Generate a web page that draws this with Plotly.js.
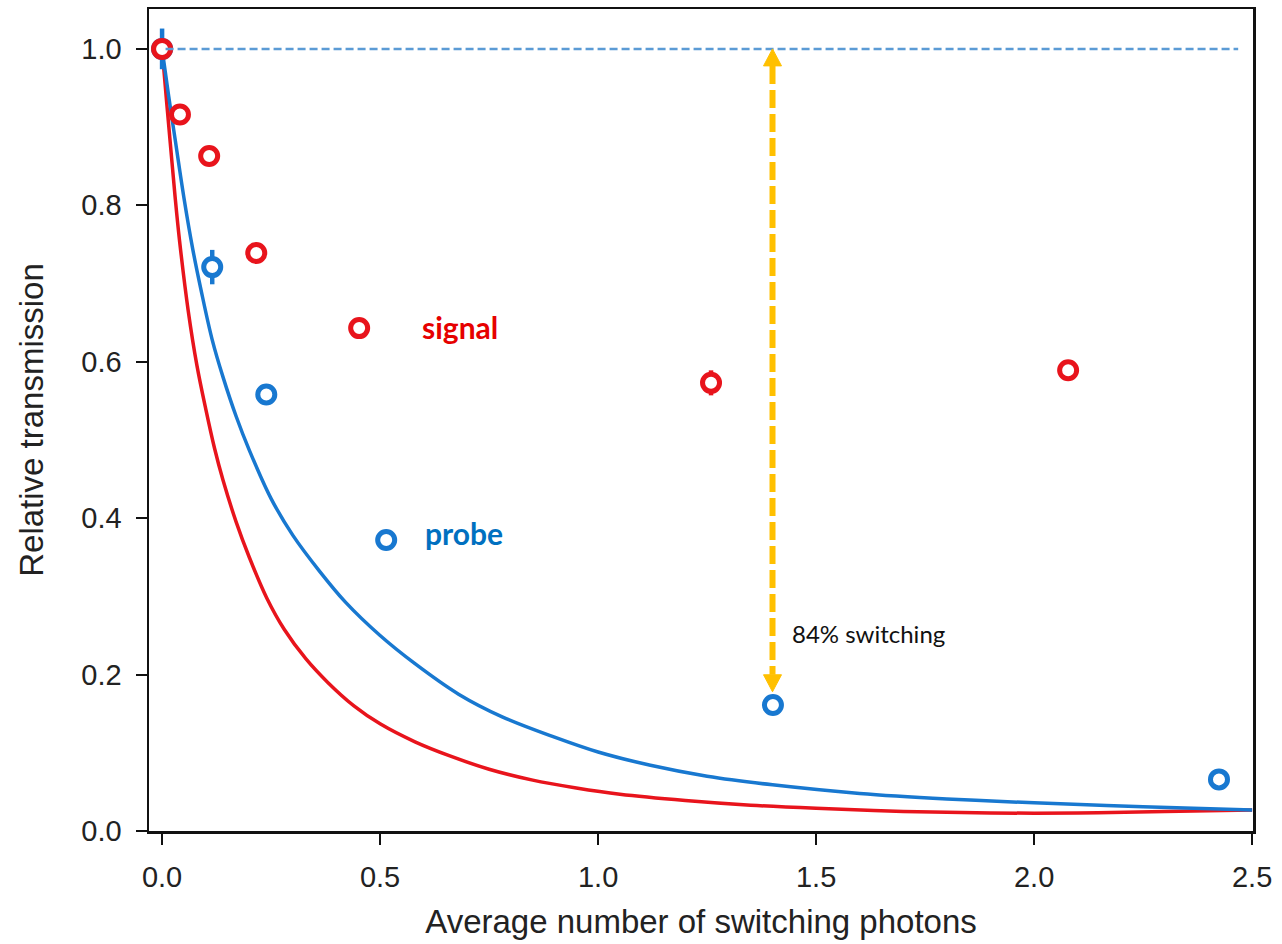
<!DOCTYPE html>
<html>
<head>
<meta charset="utf-8">
<script src="https://cdn.plot.ly/plotly-3.0.1.min.js"></script>
<style>
  html, body { margin: 0; padding: 0; background: #ffffff; }
  #chart { width: 1282px; height: 944px; }
</style>
</head>
<body>
<div id="chart"></div>
<script>
// ---- data ----
var signalX = [0.0, 0.041, 0.108, 0.216, 0.452, 1.259, 2.078];
var signalY = [1.0, 0.916, 0.863, 0.739, 0.643, 0.573, 0.589];
var signalErr = [0, 0, 0, 0, 0, 0.016, 0];

var probeX = [0.0, 0.115, 0.239, 0.514, 1.401, 2.424];
var probeY = [1.0, 0.721, 0.558, 0.372, 0.161, 0.066];
var probeErr = [0.026, 0.022, 0, 0, 0, 0];

var signalFitX = [0, 0.01, 0.02, 0.03, 0.04, 0.06, 0.08, 0.10, 0.12, 0.14, 0.17, 0.20, 0.24, 0.28, 0.33, 0.38, 0.44, 0.50, 0.58, 0.66, 0.75, 0.85, 0.95, 1.05, 1.2, 1.35, 1.5, 1.7, 1.9, 2.1, 2.3, 2.5];
var signalFitY = [1.0, 0.935, 0.872, 0.81, 0.755, 0.665, 0.595, 0.54, 0.49, 0.448, 0.395, 0.35, 0.298, 0.258, 0.22, 0.19, 0.16, 0.137, 0.114, 0.096, 0.079, 0.065, 0.055, 0.047, 0.039, 0.033, 0.029, 0.025, 0.023, 0.023, 0.025, 0.027];

var probeFitX = [0, 0.015, 0.03, 0.05, 0.07, 0.09, 0.115, 0.14, 0.17, 0.2, 0.25, 0.3, 0.36, 0.42, 0.5, 0.58, 0.68, 0.78, 0.9, 1.0, 1.12, 1.25, 1.4, 1.6, 1.8, 2.0, 2.25, 2.5];
var probeFitY = [1.0, 0.94, 0.884, 0.81, 0.745, 0.69, 0.628, 0.58, 0.53, 0.487, 0.425, 0.378, 0.333, 0.293, 0.25, 0.214, 0.175, 0.146, 0.12, 0.101, 0.084, 0.07, 0.059, 0.048, 0.041, 0.036, 0.031, 0.027];

var xTickVals = [0, 0.5, 1.0, 1.5, 2.0, 2.5];
var xTickText = ['0.0', '0.5', '1.0', '1.5', '2.0', '2.5'];
var yTickVals = [0, 0.2, 0.4, 0.6, 0.8, 1.0];
var yTickText = ['0.0', '0.2', '0.4', '0.6', '0.8', '1.0'];

var refLineY = 1.0;
var refLineX = [0.008, 2.468];
var arrowX = 1.40;
var arrowTopY = 1.0;
var arrowBottomY = 0.178;

var labelSignal = 'signal';
var labelProbe = 'probe';
var labelSwitch = '84% switching';

// ---- style ----
var RED = '#e8141c';
var BLUE = '#1878d0';
var ORANGE = '#ffc000';

var plotTop = 9, plotBottom = 113;
var plotH = 944 - plotTop - plotBottom;
var yRange = [0, 1.051];
var pxPerY = plotH / (yRange[1] - yRange[0]);
var headLen = 17;

var traces = [
  { x: signalFitX, y: signalFitY, mode: 'lines', type: 'scatter',
    line: { color: RED, width: 3.5, shape: 'spline', smoothing: 1.0 }, hoverinfo: 'skip' },
  { x: probeFitX, y: probeFitY, mode: 'lines', type: 'scatter',
    line: { color: BLUE, width: 3.5, shape: 'spline', smoothing: 1.0 }, hoverinfo: 'skip' },
  { x: probeX, y: probeY, mode: 'markers', type: 'scatter', name: 'probe',
    error_y: { type: 'data', array: probeErr, visible: true, color: BLUE, thickness: 4.5, width: 0 },
    marker: { symbol: 'circle', size: 17, color: '#ffffff', line: { width: 5, color: BLUE } } },
  { x: signalX, y: signalY, mode: 'markers', type: 'scatter', name: 'signal',
    error_y: { type: 'data', array: signalErr, visible: true, color: RED, thickness: 4.5, width: 0 },
    marker: { symbol: 'circle', size: 17, color: '#ffffff', line: { width: 5, color: RED } } }
];

var layout = {
  width: 1282, height: 944,
  margin: { l: 149, r: 29, t: plotTop, b: plotBottom },
  paper_bgcolor: '#ffffff', plot_bgcolor: '#ffffff',
  showlegend: false,
  font: { family: '"Liberation Sans", Arial, sans-serif', color: '#222222' },
  xaxis: {
    range: [-0.03, 2.502], tickvals: xTickVals, ticktext: xTickText,
    ticks: 'outside', ticklen: 11, tickwidth: 2, tickcolor: '#111111',
    showline: true, linecolor: '#111111', linewidth: 2.5, mirror: true,
    showgrid: false, zeroline: false,
    tickfont: { size: 29, color: '#222222' }, ticklabelstandoff: 8,
    title: { text: 'Average number of switching photons', font: { size: 33, color: '#222222' }, standoff: 18 }
  },
  yaxis: {
    range: yRange, tickvals: yTickVals, ticktext: yTickText,
    ticks: 'outside', ticklen: 11, tickwidth: 2, tickcolor: '#111111',
    showline: true, linecolor: '#111111', linewidth: 2.5, mirror: true,
    showgrid: false, zeroline: false,
    tickfont: { size: 29, color: '#222222' }, ticklabelstandoff: 8,
    title: { text: 'Relative transmission', font: { size: 33, color: '#222222' }, standoff: 28 }
  },
  shapes: [
    { type: 'line', xref: 'x', yref: 'y', x0: refLineX[0], x1: refLineX[1], y0: refLineY, y1: refLineY,
      line: { color: '#5b9bd5', width: 2.5, dash: '8px,4px' }, layer: 'above' },
    { type: 'line', xref: 'x', yref: 'y', x0: arrowX, x1: arrowX,
      y0: arrowTopY - headLen / pxPerY, y1: arrowBottomY + headLen / pxPerY,
      line: { color: ORANGE, width: 6, dash: '18px,6px' }, layer: 'above' },
    { type: 'path', xref: 'x', yref: 'y', xsizemode: 'pixel', ysizemode: 'pixel',
      xanchor: arrowX, yanchor: arrowTopY, path: 'M0,0 L-9,-' + headLen + ' L9,-' + headLen + ' Z',
      fillcolor: ORANGE, line: { color: ORANGE, width: 1 }, layer: 'above' },
    { type: 'path', xref: 'x', yref: 'y', xsizemode: 'pixel', ysizemode: 'pixel',
      xanchor: arrowX, yanchor: arrowBottomY, path: 'M0,0 L-9,' + headLen + ' L9,' + headLen + ' Z',
      fillcolor: ORANGE, line: { color: ORANGE, width: 1 }, layer: 'above' }
  ],
  annotations: [
    { x: 0.592, y: 0.645, xref: 'x', yref: 'y', text: '<b>' + labelSignal + '</b>', showarrow: false,
      xanchor: 'left', yanchor: 'middle', font: { family: 'Lato, "Open Sans", sans-serif', size: 30, color: '#e60000' } },
    { x: 0.599, y: 0.381, xref: 'x', yref: 'y', text: '<b>' + labelProbe + '</b>', showarrow: false,
      xanchor: 'left', yanchor: 'middle', font: { family: 'Lato, "Open Sans", sans-serif', size: 30, color: '#0070c0' } },
    { x: 1.44, y: 0.253, xref: 'x', yref: 'y', text: labelSwitch, showarrow: false,
      xanchor: 'left', yanchor: 'middle', font: { family: 'Lato, "Open Sans", sans-serif', size: 24, color: '#111111' } }
  ]
};

Plotly.newPlot('chart', traces, layout, { staticPlot: true, displayModeBar: false });
</script>
</body>
</html>
